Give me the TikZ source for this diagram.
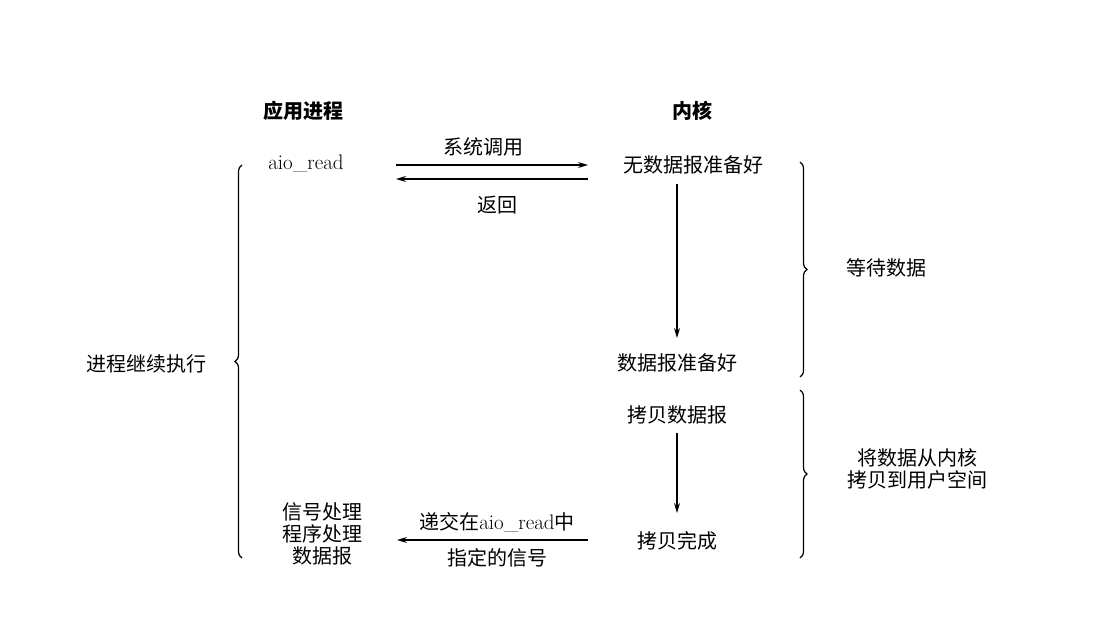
\documentclass[tikz,border=0pt]{standalone}
\usepackage{fontspec}
\setmainfont{Noto Sans CJK SC}
\newfontfamily\latinrm{Latin Modern Roman}
\usetikzlibrary{arrows.meta,decorations.pathreplacing}
\tikzset{
  lbl/.style={inner sep=1pt, font=\fontsize{20}{25}\selectfont},
  ttl/.style={inner sep=1pt, font=\fontsize{20}{25}\selectfont\bfseries},
  arr/.style={line width=1.3pt, -{Stealth[length=10pt,width=6pt]}},
  brc/.style={line width=1.2pt, decorate, decoration={brace, amplitude=7pt}}
}
\begin{document}
\begin{tikzpicture}[x=1pt,y=-1pt]
\useasboundingbox (0,0) rectangle (1095,626);
% titles
\node[ttl] (tp) at (303,111) {应用进程};
\node[ttl] (tk) at (692,111) {内核};
% left column
\node[inner sep=1pt, font=\latinrm\fontsize{21}{25}\selectfont] (aio) at (306,164) {aio\_read};
\node[lbl, align=center] (sig) at (322,534) {信号处理\\[-3pt]程序处理\\[-3pt]数据报};
\node[lbl] (cont) at (146,364) {进程继续执行};
% kernel column
\node[lbl] (nodata) at (693,165) {无数据报准备好};
\node[lbl] (ready) at (677,363) {数据报准备好};
\node[lbl] (copy) at (677,415) {拷贝数据报};
\node[lbl] (done) at (677,541) {拷贝完成};
% horizontal arrows
\coordinate (c1) at (396,165);
\coordinate (c2) at (588,165);
\coordinate (c3) at (588,179);
\coordinate (c4) at (396,179);
\draw[arr] (c1) -- (c2);
\draw[arr] (c3) -- (c4);
\node[lbl] (call) at (483,147) {系统调用};
\node[lbl] (ret) at (497,205) {返回};
\coordinate (c5) at (588,540);
\coordinate (c6) at (397,540);
\draw[arr] (c5) -- (c6);
\node[lbl] (deliv) at (497,522) {递交在{\latinrm\fontsize{21}{25}\selectfont aio\_read}中};
\node[lbl] (spec) at (497,558) {指定的信号};
% vertical arrows
\coordinate (v1) at (677,184);
\coordinate (v2) at (677,338);
\draw[arr] (v1) -- (v2);
\coordinate (v3) at (677,433);
\coordinate (v4) at (677,513);
\draw[arr] (v3) -- (v4);
% braces
\coordinate (b1) at (800,162);
\coordinate (b2) at (800,377);
\draw[brc] (b1) -- (b2);
\node[lbl] (wait) at (886,268) {等待数据};
\coordinate (b3) at (800,390);
\coordinate (b4) at (800,558);
\draw[brc] (b3) -- (b4);
\node[lbl, align=center] (cp) at (917,469) {将数据从内核\\[-3pt]拷贝到用户空间};
\coordinate (b5) at (242,558);
\coordinate (b6) at (242,165);
\draw[brc] (b5) -- (b6);
\end{tikzpicture}
\end{document}
